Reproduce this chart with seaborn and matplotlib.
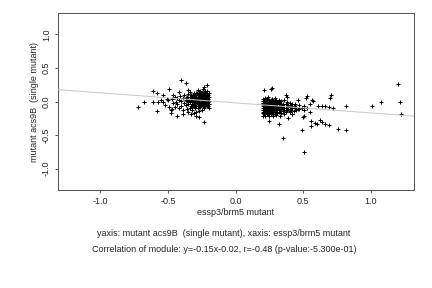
import numpy as np
import pandas as pd
import matplotlib
matplotlib.use('Agg')
import matplotlib.pyplot as plt
import seaborn as sns

# left cluster, dense core
left_core_x = [-0.20, -0.20, -0.20, -0.20, -0.20, -0.21, -0.21, -0.21, -0.21, -0.21,
               -0.22, -0.22, -0.22, -0.22, -0.22, -0.23, -0.23, -0.23, -0.23, -0.23,
               -0.24, -0.24, -0.24, -0.24, -0.24, -0.25, -0.25, -0.25, -0.25, -0.25,
               -0.26, -0.26, -0.26, -0.26, -0.26, -0.27, -0.27, -0.27, -0.27, -0.27,
               -0.28, -0.28, -0.28, -0.28, -0.28, -0.29, -0.29, -0.29, -0.29, -0.29,
               -0.30, -0.30, -0.30, -0.30, -0.31, -0.31, -0.31, -0.31, -0.31,
               -0.32, -0.32, -0.32, -0.32, -0.33, -0.33, -0.33, -0.33,
               -0.34, -0.34, -0.34, -0.35, -0.35, -0.35, -0.35, -0.36, -0.36, -0.36,
               -0.37, -0.37, -0.38, -0.38, -0.39, -0.39, -0.40, -0.40, -0.41,
               -0.42, -0.42, -0.43, -0.43, -0.44, -0.45, -0.45, -0.46, -0.47,
               -0.48, -0.50, -0.52, -0.55]
left_core_y = [0.13, 0.07, 0.01, -0.04, -0.09, 0.10, 0.04, -0.02, -0.07, 0.16,
               0.12, 0.06, 0.00, -0.05, 0.09, 0.14, 0.03, -0.03, -0.09, 0.08,
               0.11, 0.05, -0.01, -0.06, 0.18, 0.13, 0.07, 0.02, -0.04, -0.12,
               0.09, 0.04, -0.02, -0.08, 0.15, 0.12, 0.06, 0.00, -0.05, -0.14,
               0.10, 0.03, -0.03, -0.09, 0.17, 0.13, 0.07, 0.01, -0.06, -0.16,
               0.09, 0.04, -0.02, -0.10, 0.12, 0.05, -0.01, -0.07, -0.17,
               0.08, 0.02, -0.04, -0.13, 0.10, 0.03, -0.06, -0.18,
               0.06, 0.00, -0.09, 0.11, 0.04, -0.03, -0.15, 0.07, 0.01, -0.11,
               0.03, -0.05, 0.09, -0.02, 0.05, -0.12, 0.01, -0.07, 0.08,
               0.02, -0.10, 0.05, -0.04, 0.00, -0.08, 0.07, -0.02, 0.04,
               -0.12, 0.02, -0.05, 0.03]

# extra points that fill the left core in between
left_fill_x = [-0.205, -0.205, -0.205, -0.205, -0.215, -0.215, -0.215, -0.215,
               -0.225, -0.225, -0.225, -0.225, -0.235, -0.235, -0.235, -0.235,
               -0.245, -0.245, -0.245, -0.245, -0.255, -0.255, -0.255, -0.255,
               -0.265, -0.265, -0.265, -0.275, -0.275, -0.275, -0.285, -0.285, -0.285,
               -0.295, -0.295, -0.305, -0.305, -0.315, -0.315, -0.325, -0.325,
               -0.335, -0.345, -0.355, -0.365]
left_fill_y = [0.10, 0.04, -0.01, -0.06, 0.13, 0.07, 0.01, -0.04,
               0.15, 0.03, -0.02, -0.07, 0.11, 0.05, 0.00, -0.05,
               0.08, 0.02, -0.03, 0.14, 0.10, 0.04, -0.01, -0.07,
               0.12, 0.06, -0.03, 0.09, 0.02, -0.07, 0.13, 0.05, -0.01,
               0.10, 0.03, 0.07, -0.05, 0.09, 0.01, 0.05, -0.08,
               0.07, 0.03, 0.00, 0.05]

# left cluster, scattered points
left_out_x = [-0.72, -0.675, -0.61, -0.58, -0.585, -0.61, -0.575, -0.535, -0.535,
              -0.49, -0.495, -0.48, -0.47, -0.435, -0.40, -0.37, -0.355, -0.335,
              -0.39, -0.29, -0.27, -0.235, -0.21, -0.235, -0.46, -0.42, -0.51]
left_out_y = [-0.075, -0.01, 0.155, 0.125, -0.145, -0.01, -0.01, 0.09, -0.01,
              0.18, -0.085, -0.17, -0.11, -0.21, 0.32, 0.27, 0.175, 0.135,
              -0.185, -0.21, -0.235, -0.31, 0.24, 0.215, 0.10, 0.14, 0.04]

# right cluster, dense core
right_core_x = [0.20, 0.20, 0.20, 0.20, 0.20, 0.20, 0.21, 0.21, 0.21, 0.21, 0.21,
                0.22, 0.22, 0.22, 0.22, 0.22, 0.22, 0.23, 0.23, 0.23, 0.23, 0.23,
                0.24, 0.24, 0.24, 0.24, 0.24, 0.25, 0.25, 0.25, 0.25, 0.25,
                0.26, 0.26, 0.26, 0.26, 0.26, 0.27, 0.27, 0.27, 0.27, 0.27,
                0.28, 0.28, 0.28, 0.28, 0.28, 0.29, 0.29, 0.29, 0.29, 0.29,
                0.30, 0.30, 0.30, 0.30, 0.30, 0.31, 0.31, 0.31, 0.31,
                0.32, 0.32, 0.32, 0.32, 0.33, 0.33, 0.33, 0.33, 0.34, 0.34, 0.34, 0.34,
                0.35, 0.35, 0.35, 0.36, 0.36, 0.36, 0.36, 0.37, 0.37, 0.37,
                0.38, 0.38, 0.38, 0.39, 0.39, 0.39, 0.40, 0.40, 0.40, 0.41, 0.41,
                0.42, 0.42, 0.42, 0.43, 0.43, 0.44, 0.44, 0.45, 0.45, 0.47, 0.47,
                0.49, 0.51, 0.51, 0.53, 0.55, 0.55]
right_core_y = [0.04, -0.02, -0.07, -0.12, -0.17, -0.21, 0.01, -0.05, -0.10, -0.15, -0.19,
                0.05, -0.01, -0.06, -0.11, -0.16, -0.22, 0.02, -0.04, -0.09, -0.14, -0.19,
                0.06, -0.02, -0.07, -0.12, -0.18, 0.03, -0.03, -0.08, -0.13, -0.21,
                0.00, -0.05, -0.10, -0.15, -0.19, 0.04, -0.02, -0.07, -0.12, -0.17,
                0.01, -0.04, -0.09, -0.14, -0.22, 0.05, -0.01, -0.06, -0.11, -0.18,
                0.02, -0.04, -0.09, -0.15, -0.20, -0.01, -0.07, -0.12, -0.17,
                0.03, -0.04, -0.10, -0.16, -0.02, -0.08, -0.13, -0.21, 0.01, -0.05, -0.11, -0.17,
                -0.03, -0.09, -0.14, 0.02, -0.06, -0.12, -0.19, -0.04, -0.10, -0.16,
                0.00, -0.07, -0.13, -0.05, -0.11, -0.24, -0.02, -0.08, -0.15, -0.06, -0.12,
                -0.03, -0.09, -0.18, -0.07, -0.14, -0.04, -0.10, -0.08, -0.13, -0.05, -0.11,
                -0.09, -0.06, -0.13, -0.10, -0.04, -0.16]

# extra points that fill the right core in between
right_fill_x = [0.205, 0.205, 0.205, 0.205, 0.215, 0.215, 0.215, 0.215,
                0.225, 0.225, 0.225, 0.225, 0.235, 0.235, 0.235, 0.235,
                0.245, 0.245, 0.245, 0.245, 0.255, 0.255, 0.255, 0.255,
                0.265, 0.265, 0.265, 0.275, 0.275, 0.275, 0.285, 0.285, 0.285,
                0.295, 0.295, 0.305, 0.305, 0.315, 0.315, 0.325, 0.325,
                0.335, 0.345, 0.355]
right_fill_y = [0.01, -0.04, -0.10, -0.15, 0.03, -0.08, -0.13, -0.18,
                0.02, -0.03, -0.09, -0.14, 0.04, -0.06, -0.11, -0.17,
                0.00, -0.05, -0.10, -0.15, 0.01, -0.06, -0.11, -0.16,
                0.02, -0.08, -0.13, 0.01, -0.05, -0.15, -0.02, -0.07, -0.12,
                0.02, -0.09, -0.06, -0.13, 0.00, -0.10, -0.07, -0.13,
                -0.05, -0.08, -0.06]

# right cluster, scattered points
right_out_x = [0.21, 0.27, 0.265, 0.375, 0.38, 0.465, 0.52, 0.53, 0.565, 0.57,
               0.70, 0.71, 0.61, 0.64, 0.66, 0.695, 0.725, 0.82, 1.01, 1.075,
               1.20, 1.22, 1.225, 0.35, 0.505, 0.495, 0.56, 0.585, 0.60, 0.555,
               0.625, 0.64, 0.66, 0.69, 0.755, 0.815, 0.325, 0.245, 0.50, 0.505,
               0.465, 0.49, 0.415, 0.40]
right_out_y = [0.165, 0.195, 0.19, 0.10, 0.065, 0.025, 0.055, 0.08, 0.025, 0.015,
               0.05, 0.09, -0.065, -0.065, -0.065, -0.085, -0.095, -0.065, -0.065, -0.01,
               0.255, -0.01, -0.185, -0.54, -0.745, -0.43, -0.36, -0.325, -0.34, -0.295,
               -0.27, -0.30, -0.335, -0.345, -0.41, -0.43, -0.335, -0.285, -0.235, -0.21,
               -0.11, -0.09, -0.185, -0.14]

slope = -0.15
intercept = -0.02

x_ticks = [-1.0, -0.5, 0.0, 0.5, 1.0]
y_ticks = [-1.0, -0.5, 0.0, 0.5, 1.0]

x_label = 'essp3/brm5 mutant'
y_label = 'mutant acs9B  (single mutant)'
line1 = 'yaxis: mutant acs9B  (single mutant), xaxis: essp3/brm5 mutant'
line2 = 'Correlation of module: y=-0.15x-0.02, r=-0.48 (p-value:-5.300e-01)'

df = pd.DataFrame({
    'x': left_core_x + left_fill_x + left_out_x + right_core_x + right_fill_x + right_out_x,
    'y': left_core_y + left_fill_y + left_out_y + right_core_y + right_fill_y + right_out_y,
})

sns.set_style('ticks')
plt.rcParams['font.family'] = ['Liberation Sans', 'DejaVu Sans']
plt.rcParams['font.size'] = 9

fig = plt.figure(figsize=(6, 4), dpi=72)
ax = fig.add_axes([0.134, 0.34, 0.824, 0.615])

sns.scatterplot(data=df, x='x', y='y', marker='+', color='black', s=24,
                linewidth=1.0, ax=ax, zorder=2)
ax.axline((0, intercept), slope=slope, color='#c8c8c8', lw=1.0, zorder=3)

ax.set_xlim(-1.315, 1.32)
ax.set_ylim(-1.32, 1.32)
ax.set_xticks(x_ticks)
ax.set_yticks(y_ticks)
ax.set_xticklabels([f'{t:.1f}' for t in x_ticks])
ax.set_yticklabels([f'{t:.1f}' for t in y_ticks], rotation=90, va='center')
ax.tick_params(length=3, width=0.8, color='#333333', labelsize=9, pad=4)
for sp in ax.spines.values():
    sp.set_visible(True)
    sp.set_linewidth(1.0)
    sp.set_color('#555555')

ax.set_xlabel(x_label, fontsize=9, labelpad=2)
ax.set_ylabel(y_label, fontsize=9, labelpad=3)

fig.text(0.518, 0.19, line1, ha='center', va='center', fontsize=9)
fig.text(0.518, 0.132, line2, ha='center', va='center', fontsize=9)

fig.savefig('out.png', dpi=72)
